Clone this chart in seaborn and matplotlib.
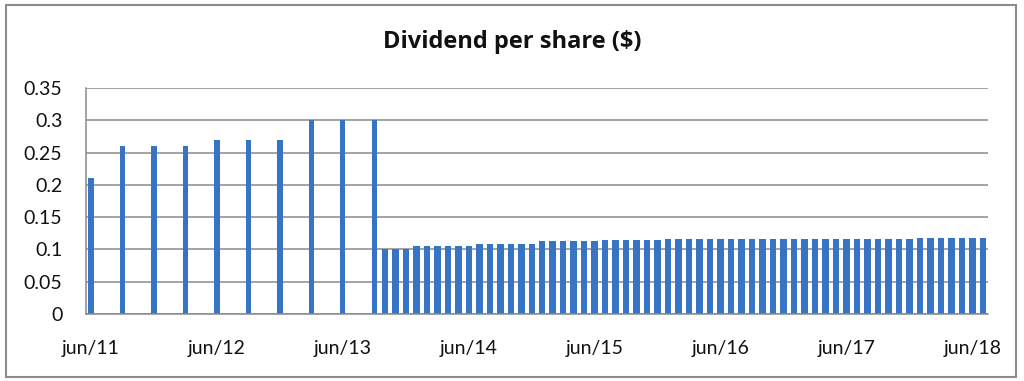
import matplotlib
matplotlib.use("Agg")
import matplotlib.pyplot as plt
from matplotlib.patches import Rectangle
import seaborn as sns
import pandas as pd

# ---- data ----
quarterly_dates = ["2011-06", "2011-09", "2011-12", "2012-03", "2012-06",
                   "2012-09", "2012-12", "2013-03", "2013-06", "2013-09"]
quarterly_values = [0.21, 0.26, 0.26, 0.26, 0.27, 0.27, 0.27, 0.30, 0.30, 0.30]

monthly_start = "2013-10"
monthly_2013 = [0.100, 0.100, 0.100]
monthly_2014 = [0.105, 0.105, 0.105, 0.105, 0.105, 0.105,
                0.1083, 0.1083, 0.1083, 0.1083, 0.1083, 0.1083]
monthly_2015 = [0.1125, 0.1125, 0.1125, 0.1125, 0.1125, 0.1125,
                0.115, 0.115, 0.115, 0.115, 0.115, 0.115]
monthly_2016 = [0.1158, 0.1158, 0.1158, 0.1158, 0.1158, 0.1158,
                0.1158, 0.1158, 0.1158, 0.1158, 0.1158, 0.1158]
monthly_2017 = [0.1167, 0.1167, 0.1167, 0.1167, 0.1167, 0.1167,
                0.1167, 0.1167, 0.1167, 0.1167, 0.1167, 0.1167]
monthly_2018 = [0.1183, 0.1183, 0.1183, 0.1183, 0.1183, 0.1183, 0.1183]

tick_labels = ["jun/11", "jun/12", "jun/13", "jun/14", "jun/15", "jun/16", "jun/17", "jun/18"]
y_ticks = [0, 0.05, 0.1, 0.15, 0.2, 0.25, 0.3, 0.35]
y_tick_labels = ["0", "0.05", "0.1", "0.15", "0.2", "0.25", "0.3", "0.35"]
title = "Dividend per share ($)"

# ---- build tables ----
origin = pd.Period(quarterly_dates[0], freq="M")
q_periods = pd.PeriodIndex(quarterly_dates, freq="M")
df_q = pd.DataFrame({
    "month": [(d - origin).n for d in q_periods],
    "dividend": quarterly_values,
})
monthly_values = monthly_2013 + monthly_2014 + monthly_2015 + monthly_2016 + monthly_2017 + monthly_2018
m_periods = pd.period_range(monthly_start, periods=len(monthly_values), freq="M")
df_m = pd.DataFrame({
    "month": [(d - origin).n for d in m_periods],
    "dividend": monthly_values,
})

# ---- plot ----
sns.set_theme(style="white")
plt.rcParams["font.family"] = ["Lato", "DejaVu Sans"]

W, H = 1024, 381
fig = plt.figure(figsize=(W / 100, H / 100), dpi=100)
ax = fig.add_axes([86 / W, 1 - 314 / H, (988 - 86) / W, (314 - 88) / H])

bar_color = "#3774C6"
# quarterly bars: spacing 3 months, bar ~0.5 month wide
sns.barplot(data=df_q, x="month", y="dividend", native_scale=True, width=0.5 / 3,
            color=bar_color, saturation=1, errorbar=None, linewidth=0, ax=ax)
# monthly bars: spacing 1 month, bar ~0.62 month wide
sns.barplot(data=df_m, x="month", y="dividend", native_scale=True, width=0.62,
            color=bar_color, saturation=1, errorbar=None, linewidth=0, ax=ax)

ax.set_xlim(-0.48, 85.48)
ax.set_ylim(0, 0.35)
ax.set_yticks(y_ticks)
ax.set_yticklabels(y_tick_labels)
ax.set_xticks([12 * i for i in range(len(tick_labels))])
ax.set_xticklabels(tick_labels)
ax.set_xlabel("")
ax.set_ylabel("")
ax.tick_params(axis="both", length=0, labelsize=14, colors="#111111")
ax.tick_params(axis="y", pad=17)
ax.tick_params(axis="x", pad=19)

ax.yaxis.grid(True, color="#8a8a8a", linewidth=1.1)
ax.set_axisbelow(True)
for s in ["top", "right"]:
    ax.spines[s].set_visible(False)
for s in ["left", "bottom"]:
    ax.spines[s].set_visible(True)
    ax.spines[s].set_color("#8a8a8a")
    ax.spines[s].set_linewidth(1.1)

fig.text(512 / W, 1 - 42 / H, title, ha="center", va="center",
         fontsize=17, fontweight="bold", color="#111111",
         family=["Open Sans", "DejaVu Sans"])

fig.patches.append(Rectangle((6 / W, 1 - 377 / H), (1016 - 6) / W, (377 - 5) / H,
                             transform=fig.transFigure, fill=False,
                             edgecolor="#8c8c8c", linewidth=1.5))

fig.savefig("out.png", dpi=100)
